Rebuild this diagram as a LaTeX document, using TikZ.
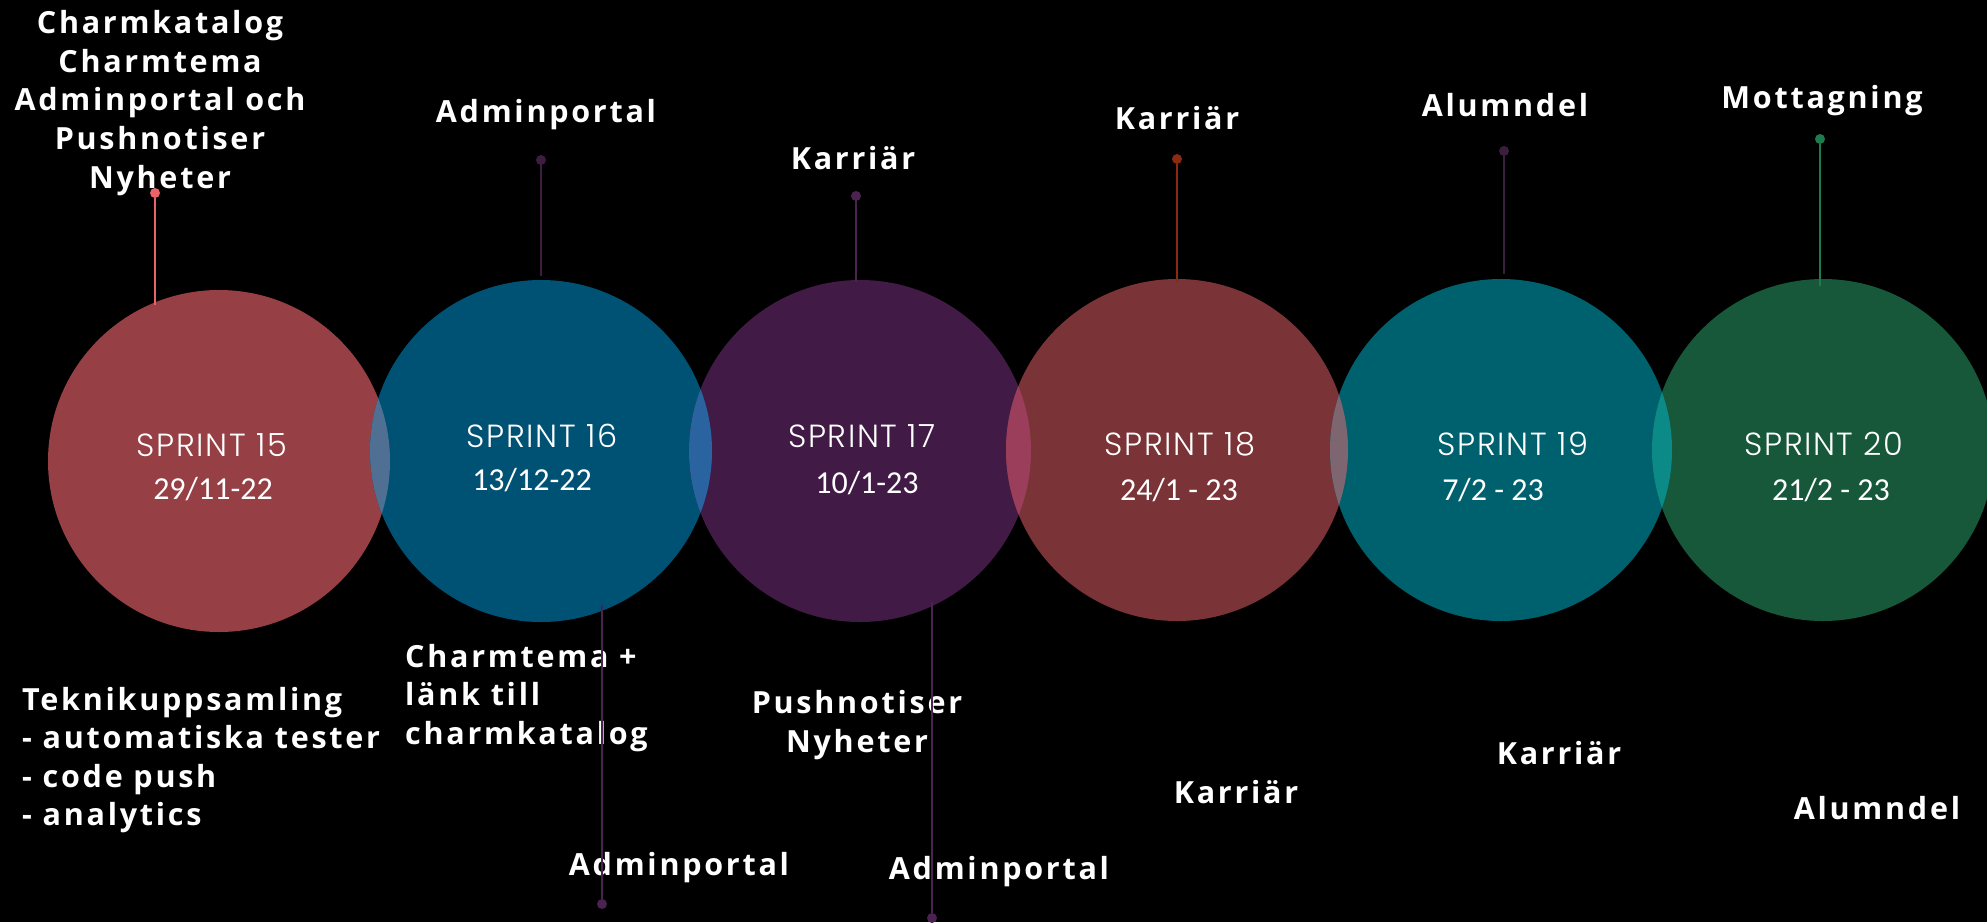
\documentclass[tikz,border=0pt]{standalone}
\usepackage{fontspec}
\usepackage{xcolor}
\usepackage{tikz}
\usetikzlibrary{calc}

\setmainfont{Open Sans}
\newfontfamily\labelfont{Open Sans}[LetterSpace=9]
\IfFontExistsTF{Poppins Light}{\newfontfamily\sprintfont{Poppins Light}[LetterSpace=5]}{\newfontfamily\sprintfont{Poppins}[LetterSpace=3]}
\newfontfamily\datefont{Carlito}

\definecolor{sp15}{HTML}{963F44}
\definecolor{sp16}{HTML}{005274}
\definecolor{sp17}{HTML}{421A46}
\definecolor{sp18}{HTML}{7A3336}
\definecolor{sp19}{HTML}{00616E}
\definecolor{sp20}{HTML}{17573A}
\definecolor{ov1516}{HTML}{4F7093}
\definecolor{ov1617}{HTML}{2A64A0}
\definecolor{ov1718}{HTML}{9B3E5C}
\definecolor{ov1819}{HTML}{7E6670}
\definecolor{ov1920}{HTML}{0C8A88}
\definecolor{st15}{HTML}{E8636A}
\definecolor{st16}{HTML}{3F1D40}
\definecolor{st17}{HTML}{4A2350}
\definecolor{st18}{HTML}{8B2A12}
\definecolor{st19}{HTML}{3B1E3D}
\definecolor{st20}{HTML}{1E7B4B}

\tikzset{
  task/.style={text=white, font=\labelfont\bfseries\fontsize{30.5}{38.6}\selectfont, align=center, inner sep=0pt},
  tasklist/.style={task, align=left, anchor=west},
  sprinttitle/.style={text=white, font=\sprintfont\fontsize{32}{36}\selectfont, inner sep=0pt},
  sprintdate/.style={text=white, font=\datefont\fontsize{32}{36}\selectfont, inner sep=0pt},
  pin/.style={circle, inner sep=0pt, minimum size=10pt},
  stem/.style={line width=2.5pt},
}

\begin{document}
\begin{tikzpicture}[x=1pt, y=-1pt]
    \useasboundingbox (0,0) rectangle (1987,922);
    \fill[black] (0,0) rectangle (1987,922);
    \clip (0,0) rectangle (1987,922);

        \coordinate (c15) at (219,461);
        \coordinate (c16) at (541,451);
        \coordinate (c17) at (860,451);
        \coordinate (c18) at (1177,450);
        \coordinate (c19) at (1501,450);
        \coordinate (c20) at (1823,450);

        \fill[sp15] (c15) circle (171);
        \fill[sp16] (c16) circle (171);
        \fill[sp17] (c17) circle (171);
        \fill[sp18] (c18) circle (171);
        \fill[sp19] (c19) circle (171);
        \fill[sp20] (c20) circle (171);

        \begin{scope}
        \clip (c15) circle (171);
        \fill[ov1516] (c16) circle (171);
        \end{scope}
        \begin{scope}
        \clip (c16) circle (171);
        \fill[ov1617] (c17) circle (171);
        \end{scope}
        \begin{scope}
        \clip (c17) circle (171);
        \fill[ov1718] (c18) circle (171);
        \end{scope}
        \begin{scope}
        \clip (c18) circle (171);
        \fill[ov1819] (c19) circle (171);
        \end{scope}
        \begin{scope}
        \clip (c19) circle (171);
        \fill[ov1920] (c20) circle (171);
        \end{scope}

        \node[sprinttitle] (t15) at (212,445) {SPRINT 15};
        \node[sprintdate] (d15) at (213,489) {29/11-22};
        \node[sprinttitle] (t16) at (542,436) {SPRINT 16};
        \node[sprintdate] (d16) at (532,480) {13/12-22};
        \node[sprinttitle] (t17) at (862,436) {SPRINT 17};
        \node[sprintdate] (d17) at (867,483) {10/1-23};
        \node[sprinttitle] (t18) at (1180,444) {SPRINT 18};
        \node[sprintdate] (d18) at (1179,490) {24/1 - 23};
        \node[sprinttitle] (t19) at (1513,444) {SPRINT 19};
        \node[sprintdate] (d19) at (1493,490) {7/2 - 23};
        \node[sprinttitle] (t20) at (1824,444) {SPRINT 20};
        \node[sprintdate] (d20) at (1831,490) {21/2 - 23};

        \node[task] (up15) at (160,103) {Charmkatalog\\Charmtema\\Adminportal och\\Pushnotiser\\Nyheter};
        \node[task] (up16) at (546,115) {Adminportal};
        \node[task] (up17) at (853,158) {Karriär};
        \node[task] (up18) at (1177,118) {Karriär};
        \node[task] (up19) at (1505,105) {Alumndel};
        \node[task] (up20) at (1822,101) {Mottagning};

        \node[tasklist] (lo15) at (22,760) {Teknikuppsamling\\- automatiska tester\\- code push\\- analytics};
        \node[tasklist] (lo16) at (405,698) {Charmtema +\\länk till\\charmkatalog};
        \node[task] (lo16b) at (679,868) {Adminportal};
        \node[task] (lo17) at (857,725) {Pushnotiser\\Nyheter};
        \node[task] (lo17b) at (999,872) {Adminportal};
        \node[task] (lo18) at (1236,792) {Karriär};
        \node[task] (lo19) at (1559,753) {Karriär};
        \node[task] (lo20) at (1877,808) {Alumndel};

        \node[pin, fill=st15] (p15) at (155,193) {};
        \node[pin, fill=st16] (p16) at (541,160) {};
        \node[pin, fill=st17] (p17) at (856,196) {};
        \node[pin, fill=st18] (p18) at (1177,159) {};
        \node[pin, fill=st19] (p19) at (1504,151) {};
        \node[pin, fill=st20] (p20) at (1820,139) {};
        \node[pin, fill=st17] (q16) at (602,904) {};
        \node[pin, fill=st17] (q17) at (932,918) {};

        \coordinate (e15) at (155,305);
        \coordinate (e16) at (541,276);
        \coordinate (e17) at (856,282);
        \coordinate (e18) at (1177,282);
        \coordinate (e19) at (1504,274);
        \coordinate (e20) at (1820,286);
        \coordinate (f16) at (602,605);
        \coordinate (f17) at (932,602);

        \draw[stem, st15] (p15) -- (e15);
        \draw[stem, st16] (p16) -- (e16);
        \draw[stem, st17] (p17) -- (e17);
        \draw[stem, st18] (p18) -- (e18);
        \draw[stem, st19] (p19) -- (e19);
        \draw[stem, st20] (p20) -- (e20);
        \draw[stem, st17] (f16) -- (q16);
        \draw[stem, st17] (f17) -- (q17);
\end{tikzpicture}
\end{document}
